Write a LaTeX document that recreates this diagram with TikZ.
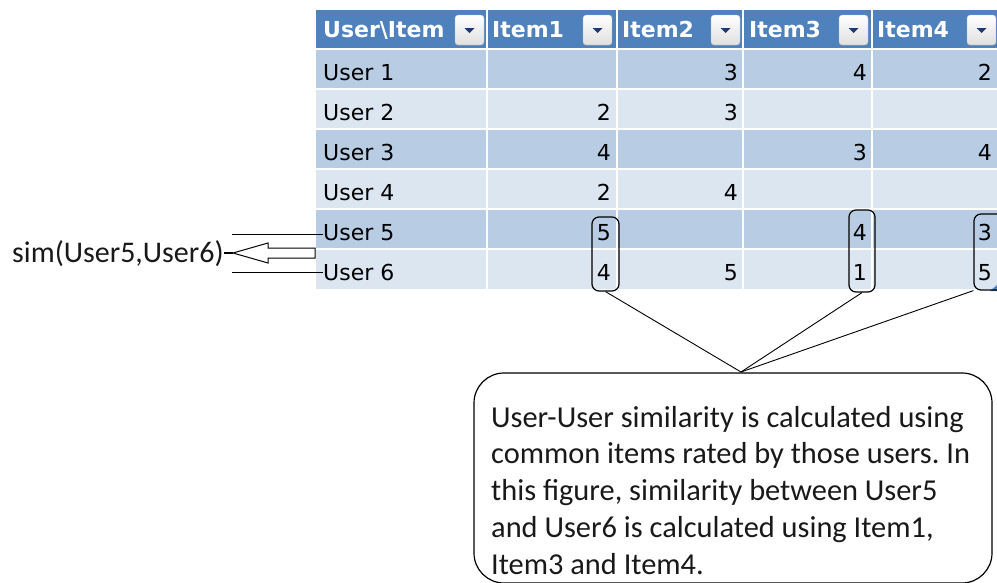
\documentclass[tikz,border=0pt]{standalone}
\usepackage{fontspec}
\setmainfont{Carlito}
\newfontfamily\xlfont{DejaVu Sans}
\frenchspacing
\begin{document}
\begin{tikzpicture}[x=1pt,y=-1pt,
  cell/.style={font=\xlfont\fontsize{22}{26}\selectfont, inner sep=0pt, text=black},
  hdr/.style={font=\xlfont\bfseries\fontsize{22}{26}\selectfont, inner sep=0pt, text=white, anchor=base west},
  btn/.style={draw=gray!55, rounded corners=3pt, top color=white, bottom color=gray!25, minimum width=29pt, minimum height=30pt, inner sep=0pt},
  ratebox/.style={draw, line width=1.2pt, rounded corners=7pt, inner sep=0pt},
  note/.style={draw, line width=1.2pt, rounded corners=30pt, inner sep=0pt},
  pointer/.style={line width=0.9pt},
  sep/.style={white, line width=2pt},
]
\definecolor{hdrblue}{HTML}{4F81BD}
\definecolor{banddark}{HTML}{B8CCE4}
\definecolor{bandlight}{HTML}{DCE6F1}
\definecolor{btnnavy}{HTML}{1F3A70}
\useasboundingbox (0,0) rectangle (997,582);

% table background: header and banded rows
\fill[hdrblue] (316,10) rectangle (999,49);
\foreach \i in {1,...,6}{
  \pgfmathtruncatemacro{\odd}{mod(\i,2)}
  \ifnum\odd=1 \def\bandcol{banddark}\else \def\bandcol{bandlight}\fi
  \fill[\bandcol] (316,{49+40*(\i-1)}) rectangle (999,{49+40*\i});
}
% grid lines
\foreach \x in {487,617,743,872}{ \draw[sep] (\x,10) -- (\x,291); }
\foreach \i in {0,...,5}{ \draw[sep] (316,{49+40*\i}) -- (999,{49+40*\i}); }

% header labels and filter buttons
\node[hdr] (h0) at (323,37) {User\textbackslash Item};
\node[hdr] (h1) at (492,37) {Item1};
\node[hdr] (h2) at (622,37) {Item2};
\node[hdr] (h3) at (749,37) {Item3};
\node[hdr] (h4) at (877,37) {Item4};
\foreach \x [count=\k] in {469.5,597.5,725.5,853.5,981.5}{
  \node[btn] (btn\k) at (\x,30) {};
  \fill[btnnavy] (\x-5,28) -- (\x+5,28) -- (\x,33) -- cycle;
}

% row labels
\foreach \i in {1,...,6}{
  \node[cell, anchor=base west] (u\i) at (323,{80+40*(\i-1)}) {User \i};
}
% ratings (row / right edge / value)
\foreach \r/\x/\v in {1/738/3, 1/867/4, 1/992/2,
                      2/611/2, 2/738/3,
                      3/611/4, 3/867/3, 3/992/4,
                      4/611/2, 4/738/4,
                      5/611/5, 5/867/4, 5/992/3,
                      6/611/4, 6/738/5, 6/867/1, 6/992/5}{
  \node[cell, anchor=base east] (v\r-\x) at (\x,{80+40*(\r-1)}) {\v};
}
% resize handle of the table
\fill[hdrblue] (990,291) -- (997,291) -- (997,285) -- cycle;

% marks around the co-rated items
\node[ratebox, minimum width=27pt, minimum height=74pt] (r1) at (605.5,254) {};
\node[ratebox, minimum width=26pt, minimum height=82pt] (r2) at (862,251) {};
\node[ratebox, minimum width=30pt, minimum height=76pt] (r3) at (989,252) {};

% explanatory note (base anchor sits on the last line)
\node[note, minimum width=518pt, minimum height=210pt] (note) at (733,478) {};
\coordinate (apex) at (741,372);
\node[anchor=base west, inner sep=0pt, align=left,
      font=\fontsize{30.4}{36.7}\selectfont, text=black!90] (notetext) at (491,574)
  {User-User similarity is calculated using\\
   common items rated by those users. In\\
   this figure, similarity between User5\\
   and User6 is calculated using Item1,\\
   Item3 and Item4.};
\draw[pointer] (r1.south) -- (apex);
\draw[pointer] (r2.south) -- (apex);
\draw[pointer] (r3.south west) -- (apex);

% similarity label with block arrow from the two user rows
\node[anchor=base west, inner sep=0pt, font=\fontsize{30}{36}\selectfont, text=black!90] (sim) at (12,262) {sim(User5,User6)};
\coordinate (tip) at (233,253);
\draw[line width=1pt, fill=white] (tip) -- (268,243) -- (268,248) -- (315,248) -- (315,258) -- (268,258) -- (268,263) -- cycle;
\draw[line width=2.5pt] (sim.east |- tip) -- (tip);
\coordinate (l5) at (232,234);
\coordinate (l6) at (232,272);
\draw[line width=1pt] (l5) -- (u5.west |- l5);
\draw[line width=1pt] (l6) -- (u6.west |- l6);
\end{tikzpicture}
\end{document}
